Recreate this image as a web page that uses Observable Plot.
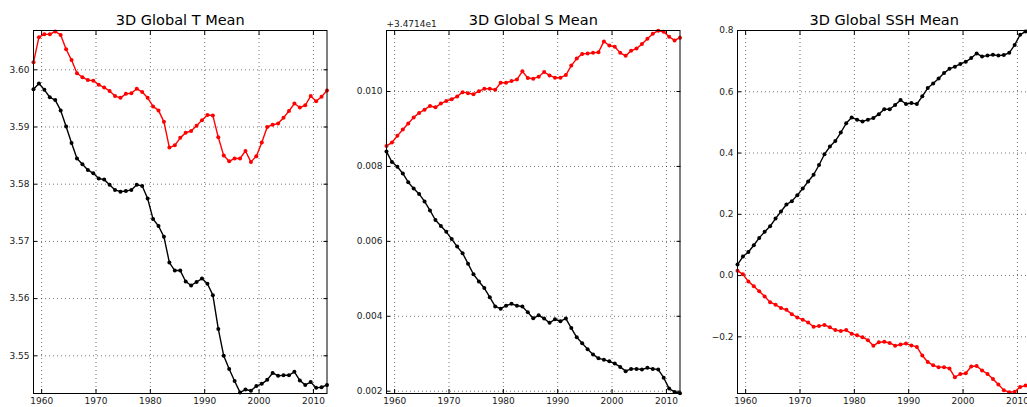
<!DOCTYPE html>
<html><head><meta charset="utf-8">
<script src="https://cdn.jsdelivr.net/npm/d3@7"></script>
<script src="https://cdn.jsdelivr.net/npm/@observablehq/plot@0.6"></script>
<style>
html,body{margin:0;padding:0;background:#fff;overflow:hidden;}
#fig{position:relative;width:1027px;height:407px;overflow:hidden;background:#fff;}
#fig svg{position:absolute;top:0;}
</style></head><body><div id="fig"></div>
<script>
const years = [1958,1959,1960,1961,1962,1963,1964,1965,1966,1967,1968,1969,
  1970,1971,1972,1973,1974,1975,1976,1977,1978,1979,
  1980,1981,1982,1983,1984,1985,1986,1987,1988,1989,
  1990,1991,1992,1993,1994,1995,1996,1997,1998,1999,
  2000,2001,2002,2003,2004,2005,2006,2007,2008,2009,
  2010,2011,2012];

const tRed = [3.6013,3.6057,3.6062,3.6062,3.6067,3.6061,3.6036,3.6017,3.5994,3.5987,3.5982,3.5981,
  3.5974,3.5969,3.5963,3.5954,3.5951,3.5958,3.5959,3.5967,3.5961,3.5951,
  3.5936,3.5929,3.5909,3.5864,3.5868,3.5881,3.5890,3.5893,3.5902,3.5912,
  3.5921,3.5920,3.5882,3.5850,3.5840,3.5845,3.5845,3.5858,3.5839,3.5849,
  3.5873,3.5900,3.5904,3.5906,3.5916,3.5928,3.5941,3.5934,3.5938,3.5954,
  3.5945,3.5953,3.5964];
const tBlack = [3.5966,3.5976,3.5965,3.5952,3.5947,3.5929,3.5901,3.5872,3.5845,3.5835,3.5825,3.5819,
  3.5810,3.5808,3.5799,3.5790,3.5787,3.5788,3.5790,3.5799,3.5797,3.5775,
  3.5739,3.5727,3.5708,3.5663,3.5649,3.5649,3.5630,3.5623,3.5629,3.5635,
  3.5626,3.5606,3.5547,3.5500,3.5477,3.5456,3.5436,3.5441,3.5439,3.5447,
  3.5451,3.5458,3.5470,3.5465,3.5466,3.5466,3.5472,3.5457,3.5449,3.5454,
  3.5444,3.5445,3.5449];

// salinity values shown as offsets from 34.714
const sRed = [0.008547,0.008637,0.008816,0.008987,0.009148,0.009309,0.009426,0.009516,0.009614,0.009578,0.009677,0.009749,
  0.009794,0.009865,0.009982,0.009955,0.009928,0.010009,0.010072,0.010072,0.010045,0.010233,
  0.010233,0.010278,0.010323,0.010538,0.010359,0.010341,0.010395,0.010520,0.010430,0.010368,
  0.010368,0.010439,0.010691,0.010879,0.011004,0.011013,0.011031,0.011049,0.011336,0.011229,
  0.011193,0.011031,0.010951,0.011085,0.011148,0.011265,0.011408,0.011543,0.011623,0.011596,
  0.011462,0.011363,0.011435];
const sBlack = [0.008395,0.008117,0.007991,0.007812,0.007578,0.007408,0.007265,0.007067,0.006825,0.006570,0.006412,0.006254,
  0.006061,0.005860,0.005684,0.005404,0.005123,0.004930,0.004754,0.004509,0.004263,0.004202,
  0.004281,0.004333,0.004281,0.004263,0.004105,0.003947,0.004026,0.003939,0.003825,0.003921,
  0.003868,0.003939,0.003684,0.003439,0.003281,0.003123,0.002982,0.002877,0.002842,0.002798,
  0.002737,0.002649,0.002535,0.002596,0.002596,0.002579,0.002623,0.002596,0.002579,0.002360,
  0.002070,0.001982,0.001945];

const sshRed = [0.016,0.004,-0.019,-0.035,-0.051,-0.068,-0.087,-0.095,-0.106,-0.112,-0.126,-0.137,
  -0.144,-0.153,-0.167,-0.165,-0.161,-0.169,-0.178,-0.181,-0.178,-0.190,
  -0.195,-0.201,-0.211,-0.229,-0.218,-0.216,-0.220,-0.229,-0.225,-0.222,
  -0.228,-0.233,-0.261,-0.282,-0.293,-0.299,-0.299,-0.303,-0.332,-0.321,
  -0.319,-0.297,-0.295,-0.310,-0.321,-0.338,-0.356,-0.374,-0.381,-0.379,
  -0.364,-0.359,-0.356];
const sshBlack = [0.036,0.062,0.077,0.099,0.123,0.143,0.161,0.186,0.209,0.232,0.243,0.262,
  0.284,0.307,0.329,0.361,0.396,0.421,0.439,0.467,0.497,0.516,
  0.509,0.503,0.509,0.514,0.527,0.543,0.543,0.557,0.573,0.560,
  0.563,0.560,0.585,0.612,0.627,0.643,0.661,0.675,0.682,0.691,
  0.698,0.710,0.725,0.715,0.718,0.721,0.718,0.720,0.727,0.753,
  0.786,0.797,0.800];

const xTicks = [1960,1970,1980,1990,2000,2010];
const titles = ["3D Global T Mean","3D Global S Mean","3D Global SSH Mean"];
const tTicks = [3.55,3.56,3.57,3.58,3.59,3.60];
const sTicks = [0.002,0.004,0.006,0.008,0.010];
const sshTicks = [-0.2,0.0,0.2,0.4,0.6,0.8];
const sOffsetLabel = "+3.4714e1";

const panels = [
  {title: titles[0], red: tRed, black: tBlack, domain: [3.54341, 3.60687], ticks: tTicks, fmt: d3.format(".2f"), left: 33},
  {title: titles[1], red: sRed, black: sBlack, domain: [0.001939, 0.011628], ticks: sTicks, fmt: d3.format(".3f"), left: 385.7, offset: sOffsetLabel},
  {title: titles[2], red: sshRed, black: sshBlack, domain: [-0.385, 0.8], ticks: sshTicks, fmt: d3.format(".1f"), left: 737}
];

const ML = 50, FW = 293.5, MR = 12;
const fig = document.getElementById("fig");
const gridStyle = {stroke: "#000", strokeOpacity: 0.55, strokeDasharray: "1,3", strokeWidth: 1};
const X = d => d.year + 0.5; // annual means plotted at mid-year

for (const p of panels) {
  const data = years.map((year, i) => ({year, red: p.red[i], black: p.black[i]}));
  const blank = () => "";
  const marks = [
    Plot.gridX(xTicks, gridStyle),
    Plot.gridY(p.ticks, gridStyle),
    Plot.axisX(xTicks, {anchor: "bottom", tickSize: 0, tickPadding: 4.5, tickFormat: d => String(d), fill: "#1a1a1a"}),
    Plot.axisY(p.ticks, {anchor: "left", tickSize: 0, tickPadding: 4, tickFormat: p.fmt, fill: "#1a1a1a"}),
    Plot.axisX(xTicks, {anchor: "bottom", tickSize: -4, tickFormat: blank}),
    Plot.axisX(xTicks, {anchor: "top", tickSize: -4, tickFormat: blank}),
    Plot.axisY(p.ticks, {anchor: "left", tickSize: -4, tickFormat: blank}),
    Plot.axisY(p.ticks, {anchor: "right", tickSize: -4, tickFormat: blank}),
    Plot.line(data, {x: X, y: "red", stroke: "#ff0000", strokeWidth: 1.4}),
    Plot.dot(data, {x: X, y: "red", r: 2, fill: "#ff0000", stroke: "none"}),
    Plot.line(data, {x: X, y: "black", stroke: "#000", strokeWidth: 1.4}),
    Plot.dot(data, {x: X, y: "black", r: 2, fill: "#000", stroke: "none"}),
    Plot.frame({stroke: "#000", strokeWidth: 1}),
    Plot.text([p.title], {frameAnchor: "top", lineAnchor: "bottom", dy: -5.7, fontSize: 14.5, fill: "#000"})
  ];
  if (p.offset) marks.push(Plot.text([p.offset], {frameAnchor: "top-left", textAnchor: "start", lineAnchor: "bottom", dy: -4, fontSize: 9, fill: "#1a1a1a"}));
  const chart = Plot.plot({
    width: ML + FW + MR, height: 407,
    marginLeft: ML, marginRight: MR, marginTop: 30, marginBottom: 14,
    x: {domain: [1958.5, 2012.5]},
    y: {domain: p.domain},
    style: {fontFamily: "DejaVu Sans", fontSize: "9px", background: "transparent", overflow: "visible"},
    marks
  });
  chart.style.left = (p.left - ML) + "px";
  fig.appendChild(chart);
}
</script></body></html>
